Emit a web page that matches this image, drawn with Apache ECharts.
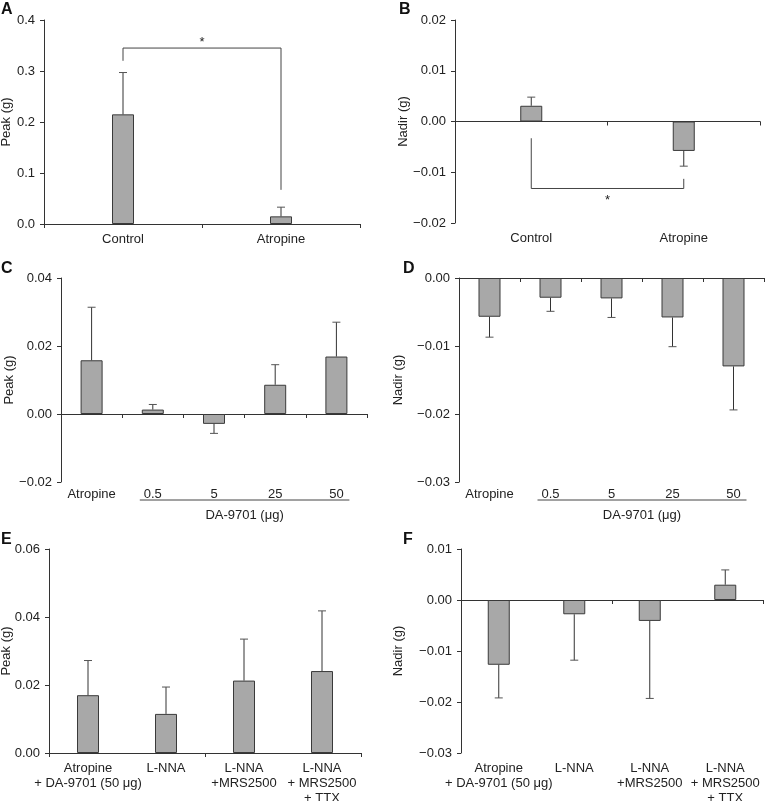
<!DOCTYPE html>
<html><head><meta charset="utf-8">
<script src="https://cdn.jsdelivr.net/npm/echarts@6/dist/echarts.min.js"></script>
<style>html,body{margin:0;padding:0;background:#fff}#c{width:765px;height:801px}</style>
</head><body><div id="c"></div>
<script>
// ---------------- data ----------------
const catsAB = ['Control', 'Atropine'];
const peakA = [0.215, 0.015];
const peakAErr = [0.297, 0.033];
const nadirB = [0.0031, -0.0058];
const nadirBErr = [0.0048, -0.0088];

const catsCD = ['Atropine', '0.5', '5', '25', '50'];
const peakC = [0.0158, 0.0013, -0.0029, 0.0086, 0.0169];
const peakCErr = [0.0314, 0.0028, -0.0057, 0.0145, 0.0270];
const nadirD = [-0.0057, -0.0029, -0.0030, -0.0058, -0.0130];
const nadirDErr = [-0.0087, -0.0049, -0.0058, -0.0101, -0.0194];

const catsEF = ['Atropine\n+ DA-9701 (50 μg)', 'L-NNA', 'L-NNA\n+MRS2500', 'L-NNA\n+ MRS2500\n+ TTX'];
const peakE = [0.0170, 0.0115, 0.0213, 0.0241];
const peakEErr = [0.0272, 0.0194, 0.0335, 0.0418];
const nadirF = [-0.0127, -0.0028, -0.0041, 0.0030];
const nadirFErr = [-0.0192, -0.0118, -0.0193, 0.0059];

// significance brackets: [from category, to category, bracket level, left end, right end]
const sigA = [[0, 1, 0.345, 0.320, 0.067]];
const sigB = [[0, 1, -0.0132, -0.0033, -0.0113]];

// y-axis scales: [min, max, interval, decimals]
const yScaleA = [0, 0.4, 0.1, 1];
const yScaleB = [-0.02, 0.02, 0.01, 2];
const yScaleC = [-0.02, 0.04, 0.02, 2];
const yScaleD = [-0.03, 0, 0.01, 2];
const yScaleE = [0, 0.06, 0.02, 2];
const yScaleF = [-0.03, 0.01, 0.01, 2];

const yNames = ['Peak (g)', 'Nadir (g)', 'Peak (g)', 'Nadir (g)', 'Peak (g)', 'Nadir (g)'];
const panelLetters = ['A', 'B', 'C', 'D', 'E', 'F'];
const groupLabel = 'DA-9701 (μg)';
// ---------------------------------------

const FONT = '"Liberation Sans", Arial, sans-serif';
const TXT = '#222';
const AX = '#333';

const panels = [
  {grid: {left: 44, top: 20, width: 316, height: 204}, cats: catsAB, vals: peakA, errs: peakAErr, y: yScaleA, nameGap: 31, sig: sigA, starDy: -6, labelMargin: 8},
  {grid: {left: 455, top: 20, width: 305, height: 203}, cats: catsAB, vals: nadirB, errs: nadirBErr, y: yScaleB, nameGap: 45, sig: sigB, starDy: 12, labelMargin: 8},
  {grid: {left: 61, top: 278, width: 306, height: 204}, cats: catsCD, vals: peakC, errs: peakCErr, y: yScaleC, nameGap: 45, labelMargin: 5, group: true},
  {grid: {left: 459, top: 278, width: 305, height: 204}, cats: catsCD, vals: nadirD, errs: nadirDErr, y: yScaleD, nameGap: 54, labelMargin: 5, group: true},
  {grid: {left: 49, top: 549, width: 312, height: 204}, cats: catsEF, vals: peakE, errs: peakEErr, y: yScaleE, nameGap: 36, labelMargin: 8},
  {grid: {left: 461, top: 549, width: 302, height: 204}, cats: catsEF, vals: nadirF, errs: nadirFErr, y: yScaleF, nameGap: 56, labelMargin: 8}
];

function fmt(dec) {
  return function (v) {
    const s = Math.abs(v) < 1e-12 ? (0).toFixed(dec) : v.toFixed(dec);
    return s.replace('-', '\u2212');
  };
}

const grids = [], xAxes = [], yAxes = [], series = [];
panels.forEach(function (p, i) {
  grids.push(Object.assign({containLabel: false, outerBoundsMode: 'none'}, p.grid));
  yAxes.push({
    type: 'value', gridIndex: i, min: p.y[0], max: p.y[1], interval: p.y[2],
    name: yNames[i], nameLocation: 'middle', nameGap: p.nameGap, nameMoveOverlap: false,
    nameTextStyle: {fontFamily: FONT, fontSize: 13, color: TXT},
    axisLine: {show: true, lineStyle: {color: AX, width: 1}},
    axisTick: {show: true, length: 4, lineStyle: {color: AX}},
    splitLine: {show: false},
    axisLabel: {fontFamily: FONT, fontSize: 13, color: TXT, margin: 9, formatter: fmt(p.y[3])}
  });
  // axis line at zero with ticks
  xAxes.push({
    type: 'category', gridIndex: i, data: p.cats,
    axisLine: {show: true, onZero: true, lineStyle: {color: AX, width: 1}},
    axisTick: {show: true, length: 4, lineStyle: {color: AX}},
    axisLabel: {show: false}
  });
  // labels at the bottom of the plot
  xAxes.push({
    type: 'category', gridIndex: i, data: p.cats, position: 'bottom',
    axisLine: {show: false, onZero: false},
    axisTick: {show: false},
    axisLabel: {show: true, interval: 0, margin: p.labelMargin, fontFamily: FONT, fontSize: 13, color: TXT, lineHeight: 15}
  });
  series.push({
    type: 'bar', xAxisIndex: 2 * i, yAxisIndex: i, barWidth: 22,
    data: p.vals,
    itemStyle: {color: '#a8a8a8', borderColor: '#3a3a3a', borderWidth: 1},
    silent: true
  });
  series.push({
    type: 'custom', xAxisIndex: 2 * i, yAxisIndex: i,
    encode: {x: 0, y: [1, 2]},
    data: p.vals.map(function (v, k) { return [k, v, p.errs[k]]; }),
    renderItem: function (params, api) {
      const p0 = api.coord([api.value(0), api.value(1)]);
      const p1 = api.coord([api.value(0), api.value(2)]);
      return {type: 'group', children: [
        {type: 'line', shape: {x1: p0[0], y1: p0[1], x2: p1[0], y2: p1[1]}, style: {stroke: '#333', lineWidth: 1}},
        {type: 'line', shape: {x1: p1[0] - 4, y1: p1[1], x2: p1[0] + 4, y2: p1[1]}, style: {stroke: '#555', lineWidth: 1}}
      ]};
    },
    silent: true, z: 3
  });
  if (p.sig) {
    series.push({
      type: 'custom', xAxisIndex: 2 * i, yAxisIndex: i,
      encode: {x: [0, 1], y: [2, 3, 4]},
      data: p.sig,
      renderItem: function (params, api) {
        const a = api.coord([api.value(0), api.value(2)]);
        const b = api.coord([api.value(1), api.value(2)]);
        const a2 = api.coord([api.value(0), api.value(3)]);
        const b2 = api.coord([api.value(1), api.value(4)]);
        return {type: 'group', children: [
          {type: 'polyline', shape: {points: [a2, a, b, b2]}, style: {stroke: '#444', lineWidth: 1, fill: null}},
          {type: 'text', x: (a[0] + b[0]) / 2, y: a[1] + p.starDy,
           style: {text: '*', fontFamily: FONT, fontSize: 13, fill: TXT, align: 'center', verticalAlign: 'middle'}}
        ]};
      },
      silent: true, z: 4
    });
  }
});

const letterPos = [[1, 2], [399, 2], [1, 261], [403, 261], [1, 532], [403, 532]];
const graphics = panelLetters.map(function (t, k) {
  return {type: 'text', left: letterPos[k][0], top: letterPos[k][1],
          style: {text: t, fontFamily: FONT, fontSize: 16, fontWeight: 'bold', fill: '#111'}};
});

const chart = echarts.init(document.getElementById('c'), null, {renderer: 'canvas'});
chart.setOption({
  animation: false,
  backgroundColor: '#fff',
  grid: grids, xAxis: xAxes, yAxis: yAxes, series: series,
  graphic: graphics
});

// group underline + label for the DA-9701 doses (computed through the axes)
panels.forEach(function (p, i) {
  if (!p.group) return;
  const x1 = chart.convertToPixel({xAxisIndex: 2 * i}, 1) - 13;
  const x2 = chart.convertToPixel({xAxisIndex: 2 * i}, p.cats.length - 1) + 13;
  const yb = chart.convertToPixel({yAxisIndex: i}, p.y[0]);
  graphics.push({type: 'line', shape: {x1: x1, y1: yb + 18, x2: x2, y2: yb + 18}, style: {stroke: '#444', lineWidth: 1}});
  graphics.push({type: 'text', x: (x1 + x2) / 2, y: yb + 33,
    style: {text: groupLabel, fontFamily: FONT, fontSize: 13, fill: TXT, align: 'center', verticalAlign: 'middle'}});
});
chart.setOption({graphic: graphics});
</script>
</body></html>
